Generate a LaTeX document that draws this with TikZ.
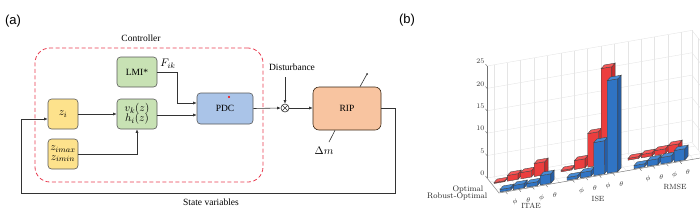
\documentclass[tikz,border=0pt]{standalone}
\usepackage{fontspec}
\newfontfamily\timesf{Liberation Serif}
\newfontfamily\arialf{Liberation Sans}
\usetikzlibrary{arrows.meta,calc}
\definecolor{yel}{RGB}{253,226,140}
\definecolor{grn}{RGB}{200,226,180}
\definecolor{blu}{RGB}{170,196,232}
\definecolor{pch}{RGB}{248,196,160}
\definecolor{ctrlred}{RGB}{232,60,80}
\definecolor{redF}{RGB}{236,62,62}
\definecolor{redS}{RGB}{205,45,45}
\definecolor{redT}{RGB}{246,88,88}
\definecolor{bluF}{RGB}{48,116,196}
\definecolor{bluS}{RGB}{36,94,168}
\definecolor{bluT}{RGB}{72,140,214}
\newcommand{\mybar}[6]{%
  \pgfmathsetmacro{\hh}{#3*4.48}%
  \filldraw[barline, fill=#4] (#1,#2) -- ++(10.7,-1.86) -- ++(0,-\hh) -- ++(-10.7,1.86) -- cycle;
  \filldraw[barline, fill=#5] ({#1+10.7},{#2-1.86}) -- ++(3.2,-3.6) -- ++(0,-\hh) -- ++(-3.2,3.6) -- cycle;
  \filldraw[barline, fill=#6] (#1,{#2-\hh}) -- ++(10.7,-1.86) -- ++(3.2,-3.6) -- ++(-10.7,1.86) -- cycle;
}
\begin{document}
\begin{tikzpicture}[x=1pt,y=-1pt,
  box/.style={draw=black!65, line width=0.6pt, rounded corners=3.5pt, inner sep=0pt,
    font=\timesf\fontsize{9.5}{10}\selectfont},
  mbox/.style={box, font=\fontsize{11}{11.5}\selectfont},
  txt/.style={font=\timesf\fontsize{9.5}{10}\selectfont, inner sep=0pt},
  mtxt/.style={font=\fontsize{11}{12}\selectfont, inner sep=0pt},
  arr/.style={-{Latex[length=3.5pt,width=3pt]}, line width=0.6pt, draw=black!80},
  plain/.style={line width=0.6pt, draw=black!80},
  grid/.style={draw=black!10, line width=0.4pt},
  axisline/.style={draw=black!55, line width=0.45pt},
  barline/.style={draw=black!75, line width=0.35pt},
  tlab/.style={font=\fontsize{7}{8}\selectfont, text=black!80, inner sep=0pt},
  glab/.style={font=\fontsize{7.5}{8}\selectfont, text=black!85, inner sep=0pt}
]
\useasboundingbox (0,0) rectangle (700,210);

% ---------------- panel (a) ----------------
\node[font=\arialf\fontsize{13}{14}\selectfont, inner sep=0pt] (la) at (13,21) {(a)};
\node[draw=ctrlred, dashed, dash pattern=on 4pt off 2.5pt, line width=0.8pt, rounded corners=15pt,
  minimum width=228pt, minimum height=134pt] (ctrlbox) at (149,115) {};
\node[txt] (ctl) at (141,38) {Controller};

\node[box, fill=grn, minimum width=40pt, minimum height=30pt] (lmi) at (137,72) {LMI*};
\node[mbox, fill=yel, minimum width=30pt, minimum height=30pt] (zi) at (63,114) {$z_i$};
\node[mbox, fill=grn, minimum width=40pt, minimum height=30pt, align=center] (vh) at (137,114) {$v_k(z)$\\[-2pt]$h_i(z)$};
\node[mbox, fill=yel, minimum width=30pt, minimum height=30pt, align=center] (zm) at (63,154) {$z_{imax}$\\[-2pt]$z_{imin}$};
\node[box, fill=blu, minimum width=56pt, minimum height=31pt] (pdc) at (225,108.5) {PDC};
\node[box, fill=pch, draw=black!70!brown, rounded corners=6pt, minimum width=68pt, minimum height=43pt] (rip) at (347,108.5) {RIP};
\node[draw=black!80, circle, minimum size=8pt, inner sep=0pt, line width=0.6pt] (sum) at (285,108) {};
\draw[plain, line width=0.5pt] (sum.north east) -- (sum.south west) (sum.north west) -- (sum.south east);
\fill[red] (229,97) circle (1.2pt);

\node[mtxt] (fik) at (168,64) {$F_{ik}$};
\node[txt] (dist) at (292,67) {Disturbance};
\node[mtxt] (dm) at (324,151) {$\Delta m$};
\node[txt] (sv) at (211,202) {State variables};

\draw[arr] (zi.east) -- (vh.west);
\draw[arr] ([yshift=-1pt]vh.east) -- ([yshift=-1pt]vh.east -| pdc.west);
\draw[arr] (lmi.east) -- ++(20,0) |- ([yshift=5.5pt]pdc.west);
\draw[arr] (zm.east) -| (vh.south);
\draw[arr] (pdc.east) -- (sum.west);
\coordinate (dtop) at (285,77);
\draw[arr] (dtop) -- (sum.north);
\draw[arr] (sum.east) -- (rip.west |- sum);
\coordinate (fbr) at (395,193);
\coordinate (fbl) at (21,193);
\draw[arr] (rip.east) -| (fbr) -- (fbl) |- ([yshift=-5pt]zi.west);
\coordinate (ripu) at (367,74);
\draw[plain] ($(rip.north)+(13,0)$) -- (ripu);
\fill[black!80] (ripu) circle (1pt);
\coordinate (ripd) at (329,142);
\draw[plain] ($(rip.south)+(-12,0)$) -- (ripd);

% ---------------- panel (b) ----------------
\node[font=\arialf\fontsize{13}{14}\selectfont, inner sep=0pt] (lb) at (407,20) {(b)};
% back wall grid
\foreach \z in {5,10,...,25}
  \draw[grid] (487,{178-\z*4.48}) -- ++(205,-35.65);
\foreach \x in {1,...,15}
  \draw[grid] ({487+(\x-0.5)*13.4},{178-(\x-0.5)*2.33}) -- ++(0,-112);
\draw[grid] (692,142.35) -- (692,30.35);
% right wall grid
\foreach \z in {0,5,...,25}
  \draw[grid] (692,{142.35-\z*4.48}) -- ++(12,15);
\draw[grid] (698,149.85) -- ++(0,-112);
% floor grid
\draw[grid] (487,178) -- ++(205,-35.65);
\foreach \y in {1,2}
  \draw[grid] ({487+(\y-0.5)*6},{178+(\y-0.5)*7.5}) -- ++(205,-35.65);
\foreach \x in {1,...,15}
  \draw[grid] ({487+(\x-0.5)*13.4},{178-(\x-0.5)*2.33}) -- ++(12,15);
% axes
\draw[axisline] (487,178) -- (487,66);
\draw[axisline] (487,178) -- (499,193) -- ++(205,-35.65);
\foreach \z in {0,5,...,25}{
  \draw[axisline] (487,{178-\z*4.48}) -- ++(-1.5,-1.9);
  \node[tlab, anchor=east] (zt\z) at (484.5,{178-\z*4.48-4.5}) {\z};
}
\node[glab, anchor=east, font=\fontsize{8}{9}\selectfont] (lopt) at (483.5,189.5) {Optimal};
\node[glab, anchor=east, font=\fontsize{8}{9}\selectfont] (lrob) at (487.5,196) {Robust-Optimal};
% x ticks and labels
\foreach \c/\l in {1/\phi,2/\theta,3/\phi,4/\theta,6/\phi,7/\theta,8/\phi,9/\theta,11/\phi,12/\theta,13/\phi,14/\theta}{
  \draw[axisline] ({499+13.4*(\c-0.5)},{193-2.33*(\c-0.5)}) -- ++(1.8,2.25);
  \node[tlab] (xt\c) at ({515+13.3*(\c-1)},{202-2.3*(\c-1)}) {$\l$};
}
\node[glab] (gitae) at (531,206.3) {ITAE};
\node[glab] (gise) at (598,199) {ISE};
\node[glab] (grmse) at (675,187) {RMSE};
% bars: red (back row) then blue (front row)
\foreach \c/\r/\b in {1/0.2/0.56,2/1.27/0.94,3/1.4/0.85,4/2.9/2.1,6/0.3/0.65,7/2.0/1.2,8/7.5/7.4,9/21.5/20.7,11/0.4/0.7,12/0.75/1.3,13/1.1/1.45,14/1.7/2.5}{
  \pgfmathsetmacro{\px}{500+13.4*(\c-1)-6}
  \pgfmathsetmacro{\py}{192-2.33*(\c-1)-8.5}
  \mybar{\px}{\py}{\r}{redF}{redS}{redT}
}
\foreach \c/\r/\b in {1/0.2/0.56,2/1.27/0.94,3/1.4/0.85,4/2.9/2.1,6/0.3/0.65,7/2.0/1.2,8/7.5/7.4,9/21.5/20.7,11/0.4/0.7,12/0.75/1.3,13/1.1/1.45,14/1.7/2.5}{
  \pgfmathsetmacro{\px}{500+13.4*(\c-1)}
  \pgfmathsetmacro{\py}{192-2.33*(\c-1)}
  \mybar{\px}{\py}{\b}{bluF}{bluS}{bluT}
}
\end{tikzpicture}
\end{document}
